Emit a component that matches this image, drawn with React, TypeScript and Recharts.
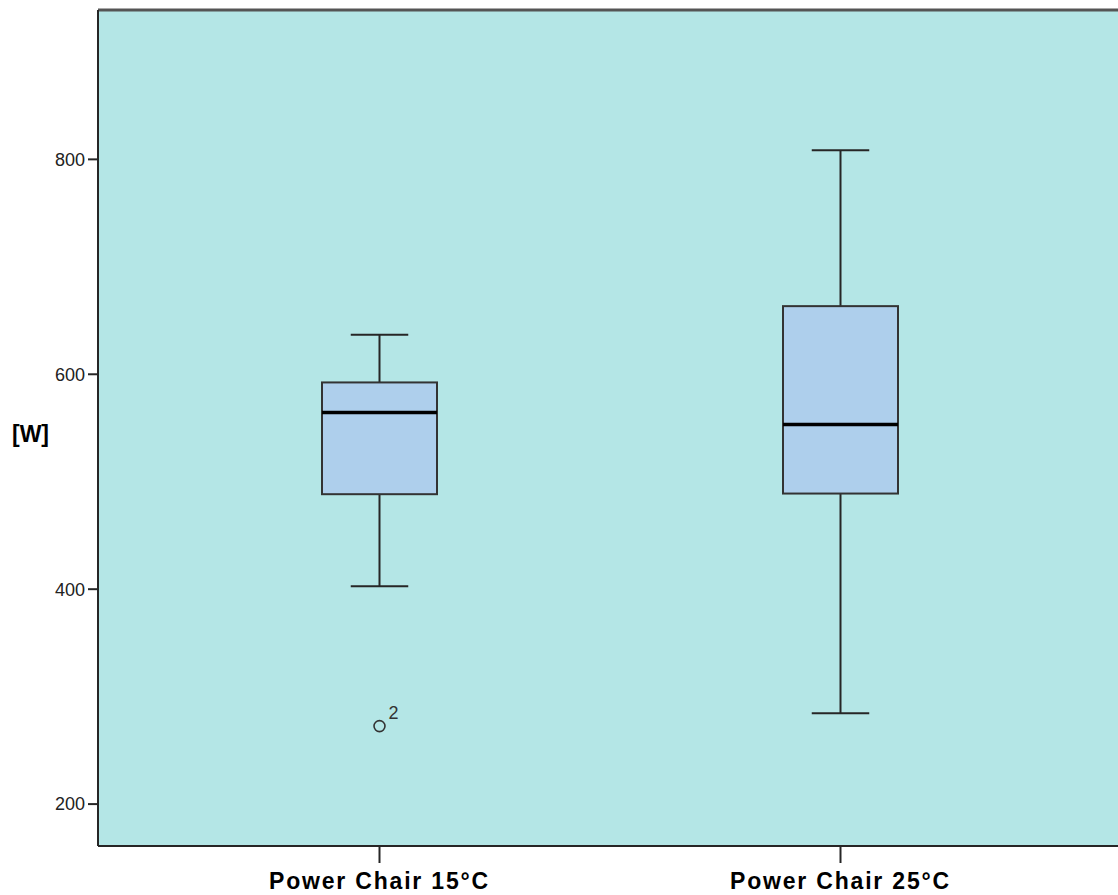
import React from "react";
import { ComposedChart, Bar, XAxis, YAxis, CartesianGrid, ReferenceLine } from "recharts";

const categories = ["Power Chair 15°C", "Power Chair 25°C"];
const mins = [402.7, 284.5];
const q1s = [488.4, 489];
const medians = [564.4, 553.3];
const q3s = [592.4, 663.4];
const maxs = [636.7, 808.4];
const outliers = [[{ value: 272.6, label: "2" }], []];
const yTicks = [200, 400, 600, 800];
const yDomain = [161, 939];

const rows = categories.map((name, i) => ({
  name,
  min: mins[i],
  q1: q1s[i],
  median: medians[i],
  q3: q3s[i],
  max: maxs[i],
  outliers: outliers[i],
}));

const FONT = "'Liberation Sans', Arial, sans-serif";

function BoxShape(props: any) {
  const { x, y, width, height, payload } = props;
  const { min, max, q1, q3, median } = payload;
  // map a value to pixels from the range bar the scale gave us
  const py = (v: number) => y + ((max - v) / (max - min)) * height;
  const cx = x + width / 2;
  const cap = width / 2;
  const stroke = "#262626";
  return (
    <g>
      <line x1={cx} x2={cx} y1={py(max)} y2={py(q3)} stroke={stroke} strokeWidth={2} />
      <line x1={cx} x2={cx} y1={py(q1)} y2={py(min)} stroke={stroke} strokeWidth={2} />
      <line x1={cx - cap / 2} x2={cx + cap / 2} y1={py(max)} y2={py(max)} stroke={stroke} strokeWidth={2} />
      <line x1={cx - cap / 2} x2={cx + cap / 2} y1={py(min)} y2={py(min)} stroke={stroke} strokeWidth={2} />
      <rect x={x} y={py(q3)} width={width} height={py(q1) - py(q3)} fill="#aecfec" stroke="#333" strokeWidth={2} />
      <line x1={x} x2={x + width} y1={py(median)} y2={py(median)} stroke="#000" strokeWidth={3.5} />
      {payload.outliers.map((o: any, k: number) => (
        <g key={k}>
          <circle cx={cx} cy={py(o.value)} r={5.5} fill="none" stroke="#333" strokeWidth={1.6} />
          <text x={cx + 9} y={py(o.value) - 7} fontSize={18} fill="#333" fontFamily={FONT}>
            {o.label}
          </text>
        </g>
      ))}
    </g>
  );
}

export default function App() {
  return (
    <div style={{ position: "absolute", left: 0, top: 0, background: "#fff" }}>
      <ComposedChart
        width={1118}
        height={895}
        data={rows}
        margin={{ top: 10, right: 0, bottom: 0, left: 0 }}
        barSize={115}
      >
        <CartesianGrid fill="#b4e6e6" horizontal={false} vertical={false} />
        <XAxis
          dataKey="name"
          type="category"
          height={49}
          padding={{ left: 51, right: 47 }}
          axisLine={{ stroke: "#262626", strokeWidth: 2 }}
          tickLine={{ stroke: "#262626", strokeWidth: 2 }}
          tickSize={17}
          tickMargin={10}
          tick={{ fontSize: 23, fontWeight: "bold", fill: "#000", fontFamily: FONT, letterSpacing: 1.8 }}
        />
        <YAxis
          type="number"
          domain={yDomain}
          ticks={yTicks}
          width={98}
          allowDataOverflow
          axisLine={{ stroke: "#262626", strokeWidth: 2 }}
          tickLine={{ stroke: "#262626", strokeWidth: 2 }}
          tickSize={10}
          tickMargin={3}
          tick={{ fontSize: 18, fill: "#222", fontFamily: FONT }}
          label={{ value: "[W]", angle: 0, position: "insideLeft", offset: 12, dy: 6, fontSize: 23, fontWeight: "bold", fill: "#000", fontFamily: FONT }}
        />
        <ReferenceLine y={yDomain[1]} stroke="#555" strokeWidth={3} ifOverflow="visible" />
        <Bar dataKey={(d: any) => [d.min, d.max]} shape={<BoxShape />} isAnimationActive={false} />
      </ComposedChart>
    </div>
  );
}
